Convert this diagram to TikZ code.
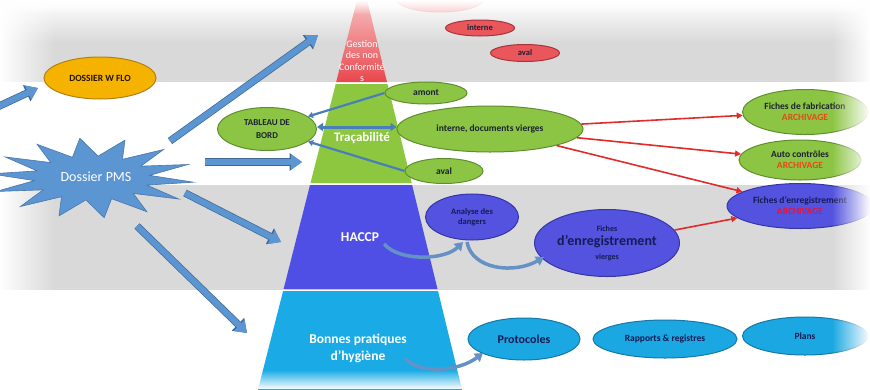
\documentclass[tikz,border=0pt]{standalone}
\usepackage{fontspec}
\setmainfont{Carlito}
\usetikzlibrary{shapes.geometric,arrows.meta,fadings}
\definecolor{bandgray}{HTML}{D9D9D9}
\definecolor{pred}{HTML}{E8474C}
\definecolor{pgreen}{HTML}{8DC63F}
\definecolor{pblue}{HTML}{4F4FE6}
\definecolor{plight}{HTML}{1AABE6}
\definecolor{egreen}{HTML}{8CC544}
\definecolor{egreenb}{HTML}{5E8E2E}
\definecolor{eblue}{HTML}{5353E0}
\definecolor{eblueb}{HTML}{3535A8}
\definecolor{elight}{HTML}{1BA8E2}
\definecolor{elightb}{HTML}{1479A8}
\definecolor{ered}{HTML}{E9575C}
\definecolor{eredb}{HTML}{A83438}
\definecolor{eyel}{HTML}{F5B300}
\definecolor{eyelb}{HTML}{B57F10}
\definecolor{arrblue}{HTML}{5B95D2}
\definecolor{steel}{HTML}{4A7EBB}
\definecolor{rarrow}{HTML}{E02C2C}
\definecolor{txt}{HTML}{1C2230}
\definecolor{navy}{HTML}{161A55}
\definecolor{archo}{HTML}{E8461C}
\definecolor{archr}{HTML}{E3153A}
\begin{document}
\begin{tikzpicture}[x=1pt,y=-1pt,
  ell/.style={ellipse, draw, line width=1pt, inner sep=0pt, align=center,
    font=\bfseries\fontsize{9.5}{11}\selectfont, text=txt},
  gell/.style={ell, fill=egreen, draw=egreenb},
  bell/.style={ell, fill=eblue, draw=eblueb, text=navy},
  lell/.style={ell, fill=elight, draw=elightb, text=navy},
  rell/.style={ell, fill=ered, draw=eredb, text=txt},
  blk/.style={line width=6pt, arrblue, -{Triangle[length=11pt,width=15pt]}},
  thinarr/.style={line width=2.2pt, steel, -{Triangle[length=5pt,width=6pt]}},
  rarr/.style={line width=1.6pt, rarrow, -{Triangle[length=6pt,width=6pt]}},
  curv/.style={line width=3.5pt, steel!85!white, -{Triangle[length=8pt,width=10pt]}},
  pyrtext/.style={text=white, font=\bfseries\fontsize{13}{15}\selectfont, align=center}]
\useasboundingbox (0,0) rectangle (870,389);
% background bands
\fill[white] (0,0) rectangle (870,389);
\shade[top color=white, bottom color=bandgray] (0,0) rectangle (870,42);
\fill[bandgray] (0,42) rectangle (870,82);
\fill[bandgray] (0,185) rectangle (870,290);
\fill[white, path fading=east] (0,0) rectangle (55,389);
% pyramid
\shade[top color=pred!35!white, bottom color=pred] (357,0) -- (367,0) -- (387.0,82) -- (336.2,82) -- cycle;
\fill[pgreen] (335.7,84) -- (387.5,84) -- (411.7,183) -- (310.5,183) -- cycle;
\fill[pblue] (310.0,185) -- (412.1,185) -- (437.5,289) -- (283.6,289) -- cycle;
\fill[plight] (283.1,291) -- (438.0,291) -- (462.6,392) -- (257.4,392) -- cycle;
\node[text=white, font=\fontsize{10}{11.5}\selectfont, align=center] (gest) at (362,61) {Gestion\\des non\\Conformité\\s};
\node[pyrtext] (trac) at (362,138) {Traçabilité};
\node[pyrtext, font=\bfseries\fontsize{13.5}{15}\selectfont] (haccp) at (360,237) {HACCP};
\node[pyrtext, font=\bfseries\fontsize{13.5}{17}\selectfont] (bph) at (358,348) {Bonnes pratiques\\d’hygiène};
% star
\fill[arrblue, draw=arrblue!80!black, line width=0.6pt] plot[samples at={0,...,27}, variable=\k]
  ({92+(mod(\k,2)==0 ? 102 : 58)*cos(\k*360/28+6)}, {178+(mod(\k,2)==0 ? 40 : 22)*sin(\k*360/28+6)}) -- cycle;
\node[text=white, font=\fontsize{14}{16}\selectfont] (pms) at (96,177) {Dossier PMS};
% block arrows
\coordinate (a1s) at (170,141); \coordinate (a1e) at (318,35);
\coordinate (a2s) at (-5,108);  \coordinate (a2e) at (38,88);
\coordinate (a3s) at (205,162); \coordinate (a3e) at (302,162);
\coordinate (a4s) at (185,193); \coordinate (a4e) at (281,242);
\coordinate (a5s) at (137,226); \coordinate (a5e) at (247,333);
\foreach \s/\e in {a1s/a1e,a2s/a2e,a3s/a3e,a4s/a4e,a5s/a5e}{
  \draw[line width=7.4pt, arrblue!70!black, -{Triangle[length=12.5pt,width=17pt]}] (\s) -- (\e);
  \draw[blk] (\s) -- (\e);}
% ellipses
\node[ell, fill=eyel, draw=eyelb, text=black!85!orange, minimum width=112pt, minimum height=42pt] (wflo) at (100,78) {DOSSIER W FLO};
\node[ell, fill=ered!30!white, draw=ered!35!white, minimum width=86pt, minimum height=24pt] (rtop) at (440,0) {};
\node[rell, minimum width=69pt, minimum height=16pt, font=\bfseries\fontsize{8.5}{9}\selectfont] (rint) at (480,28) {interne};
\node[rell, minimum width=69pt, minimum height=17pt, font=\bfseries\fontsize{8.5}{9}\selectfont] (raval) at (525,53) {aval};
\node[gell, minimum width=82pt, minimum height=22pt] (amont) at (426,93) {amont};
\node[gell, minimum width=186pt, minimum height=46pt] (idv) at (490,129) {interne, documents vierges};
\node[gell, minimum width=78pt, minimum height=25pt] (avalg) at (444,171) {aval};
\node[gell, minimum width=99pt, minimum height=43pt, font=\bfseries\fontsize{9}{13}\selectfont] (tdb) at (267,129) {TABLEAU DE\\BORD};
\node[gell, minimum width=125pt, minimum height=45pt] (fab) at (805,112) {Fiches de fabrication\\\textcolor{archo}{ARCHIVAGE}};
\node[gell, minimum width=122pt, minimum height=40pt] (auto) at (800,160) {Auto contrôles\\\textcolor{archo}{ARCHIVAGE}};
\node[bell, minimum width=146pt, minimum height=45pt] (fenr) at (800,206) {Fiches d’enregistrement\\\textcolor{archr}{ARCHIVAGE}};
\node[bell, minimum width=93pt, minimum height=46pt, font=\bfseries\fontsize{8.5}{10}\selectfont] (ana) at (472,217) {Analyse des\\dangers};
\node[bell, minimum width=145pt, minimum height=67pt, font=\bfseries\fontsize{8}{14}\selectfont] (fv) at (607,243) {Fiches\\{\fontsize{14}{14}\selectfont d’enregistrement}\\vierges};
\node[lell, minimum width=112pt, minimum height=42pt, font=\bfseries\fontsize{12}{12}\selectfont] (proto) at (524,339) {Protocoles};
\node[lell, minimum width=144pt, minimum height=38pt] (rap) at (665,339) {Rapports \& registres};
\node[lell, minimum width=125pt, minimum height=38pt] (plans) at (805,336) {Plans};
% thin connectors
\draw[thinarr] (amont.west) -- (tdb);
\draw[line width=3pt, steel, {Triangle[length=6pt,width=8pt]}-{Triangle[length=6pt,width=8pt]}] ([yshift=2pt]idv.west) -- ([yshift=2pt]tdb.east);
\draw[thinarr] (avalg.west) -- (tdb);
% red connectors
\draw[rarr] (idv) -- (fab);
\draw[rarr] (idv) -- (auto);
\draw[rarr] (idv) -- (fenr);
\draw[rarr] (fv) -- (fenr);
% curved connectors
\coordinate (h1) at (384,244); \coordinate (h1e) at (463,242);
\coordinate (h2) at (467,242); \coordinate (h2e) at (544,257);
\coordinate (h3) at (405,358); \coordinate (h3e) at (483,353);
\draw[curv] (h1) .. controls (400,262) and (445,260) .. (h1e);
\draw[curv] (h2) .. controls (472,270) and (515,274) .. (h2e);
\draw[curv] (h3) .. controls (418,374) and (458,372) .. (h3e);
% edge fades
\fill[white, path fading=west] (832,0) rectangle (870,389);
\fill[white, path fading=north] (0,370) rectangle (870,389);
\fill[white, path fading=south] (0,0) rectangle (870,14);
\end{tikzpicture}
\end{document}
